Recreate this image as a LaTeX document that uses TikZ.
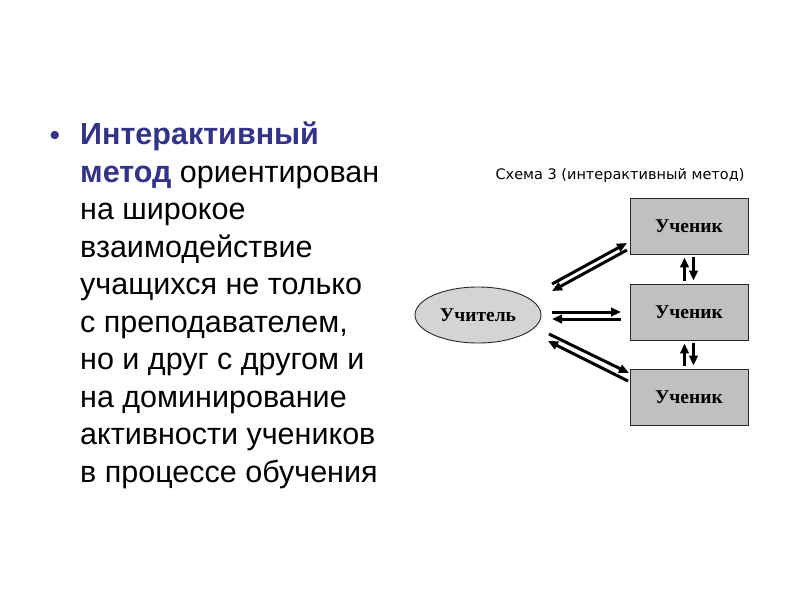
\documentclass[tikz,border=0pt]{standalone}
\usepackage{fontspec}
\setmainfont{Liberation Sans}
\newfontfamily\serifru{Liberation Serif}
\newfontfamily\titlefont{DejaVu Sans}
\usetikzlibrary{arrows.meta,shapes.geometric}
\definecolor{accent}{RGB}{51,51,136}
\definecolor{boxgray}{RGB}{192,192,192}
\definecolor{ellgray}{RGB}{212,212,212}
\definecolor{edgegray}{RGB}{40,40,40}
\begin{document}
\begin{tikzpicture}[x=1pt,y=-1pt,
  student/.style={draw=edgegray, line width=0.9pt, fill=boxgray, minimum width=118pt, minimum height=56pt, inner sep=0pt, font=\serifru\bfseries\fontsize{19.5}{22}\selectfont},
  teacher/.style={ellipse, draw=edgegray, line width=0.9pt, fill=ellgray, minimum width=126pt, minimum height=56pt, inner sep=0pt, font=\serifru\bfseries\fontsize{19.5}{22}\selectfont},
  arr/.style={line width=3pt, -{Triangle[length=10pt,width=8.5pt]}},
  body/.style={inner sep=0pt, align=left, font=\fontsize{30.5}{37.5}\selectfont}]
\useasboundingbox (0,0) rectangle (800,600);
\fill[white] (0,0) rectangle (800,600);

\node[text=accent, font=\fontsize{30}{30}\selectfont, inner sep=0pt] (bullet) at (55,138) {•};
\node[body, anchor=north west] (txt) at (80,122) {\textbf{\color{accent}Интерактивный}\\
\textbf{\color{accent}метод} ориентирован\\
на широкое\\
взаимодействие\\
учащихся не только\\
с преподавателем,\\
но и друг с другом и\\
на доминирование\\
активности учеников\\
в процессе обучения};

\node[font=\titlefont\fontsize{14.5}{16}\selectfont, text=black] (title) at (620,175) {Схема 3 (интерактивный метод)};

\node[teacher] (t) at (478,315) {Учитель};
\node[student] (s1) at (689,226) {Ученик};
\node[student] (s2) at (689,312) {Ученик};
\node[student] (s3) at (689,397) {Ученик};

\coordinate (p1a) at (552,284); \coordinate (p1b) at (627,243);
\coordinate (p1c) at (627,250); \coordinate (p1d) at (552,291);
\coordinate (p2a) at (552,312); \coordinate (p2b) at (621,312);
\coordinate (p2c) at (621,319); \coordinate (p2d) at (552,319);
\coordinate (p3a) at (549,334); \coordinate (p3b) at (629,373);
\coordinate (p3c) at (628,381); \coordinate (p3d) at (548,341);

\draw[arr] (p1a) -- (p1b);
\draw[arr] (p1c) -- (p1d);
\draw[arr] (p2a) -- (p2b);
\draw[arr] (p2c) -- (p2d);
\draw[arr] (p3a) -- (p3b);
\draw[arr] (p3c) -- (p3d);

\draw[arr, shorten <=3pt, shorten >=3pt] ([xshift=-4.5pt]s2.north) -- ([xshift=-4.5pt]s1.south);
\draw[arr, shorten <=3pt, shorten >=3pt] ([xshift=4.5pt]s1.south) -- ([xshift=4.5pt]s2.north);
\draw[arr, shorten <=3pt, shorten >=3pt] ([xshift=-4.5pt]s3.north) -- ([xshift=-4.5pt]s2.south);
\draw[arr, shorten <=3pt, shorten >=3pt] ([xshift=4.5pt]s2.south) -- ([xshift=4.5pt]s3.north);
\end{tikzpicture}
\end{document}
